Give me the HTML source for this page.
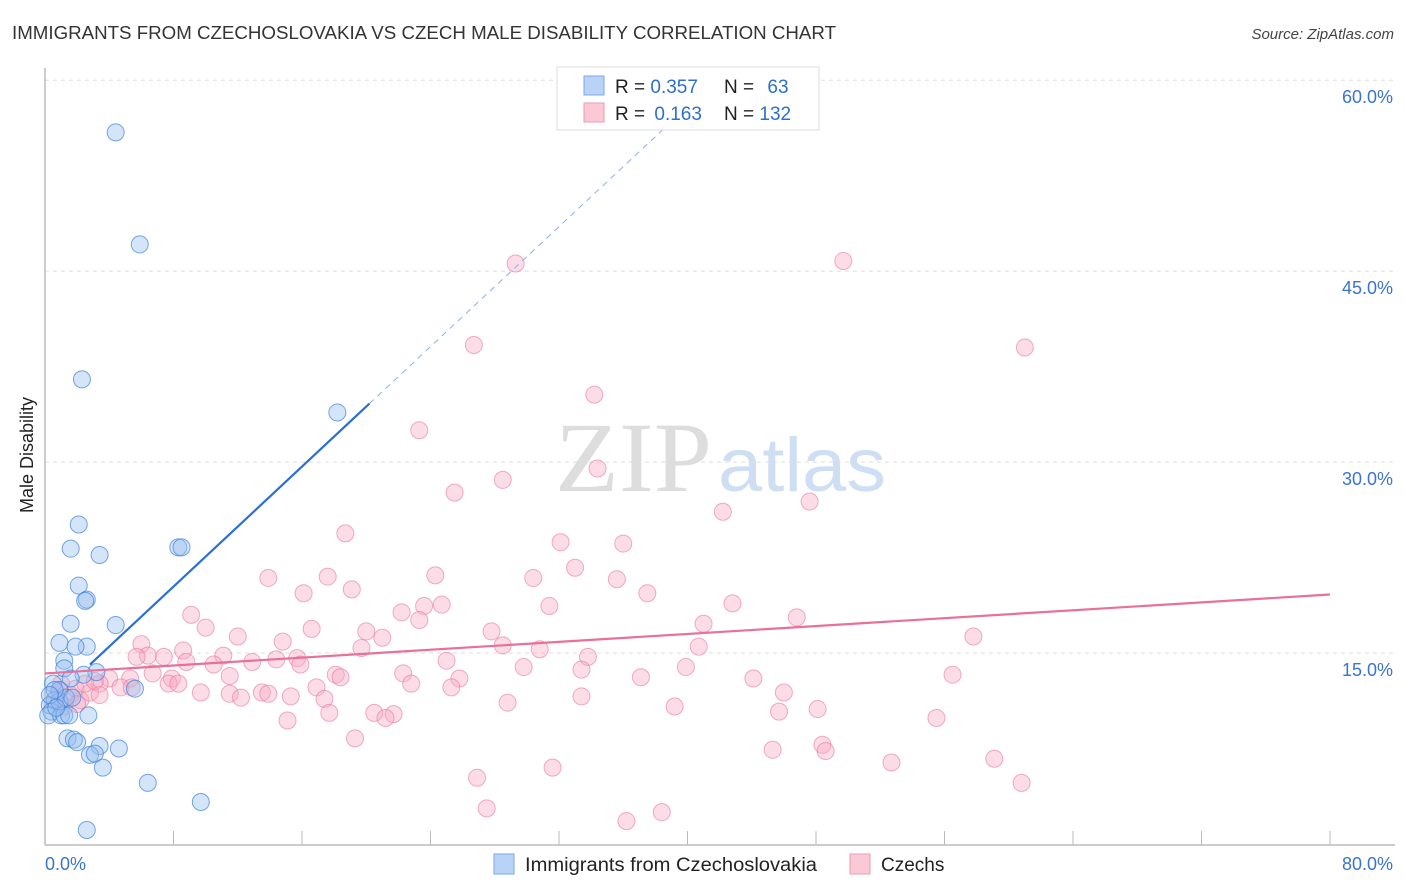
<!DOCTYPE html>
<html><head><meta charset="utf-8"><style>
body{margin:0;background:#fff;font-family:"Liberation Sans",sans-serif}
#wrap{position:relative;width:1406px;height:892px;overflow:hidden}
</style></head><body>
<div id="wrap">
<svg id="svg" width="1406" height="892" xmlns="http://www.w3.org/2000/svg">
<text x="12" y="39" font-size="18" fill="#333" textLength="824" lengthAdjust="spacingAndGlyphs">IMMIGRANTS FROM CZECHOSLOVAKIA VS CZECH MALE DISABILITY CORRELATION CHART</text>
<text x="1394" y="39" font-size="15" fill="#444" font-style="italic" text-anchor="end">Source: ZipAtlas.com</text>
<text x="33" y="455" font-size="18" fill="#222" transform="rotate(-90 33 455)" text-anchor="middle">Male Disability</text>
<text x="555" y="491" font-size="100" fill="#ddd" font-family="Liberation Serif,serif" textLength="157" lengthAdjust="spacingAndGlyphs">ZIP</text>
<text x="718" y="491" font-size="76" fill="#cfdff3" textLength="168" lengthAdjust="spacingAndGlyphs">atlas</text>
<g id="grid"></g><g id="axes"></g><g id="pts"></g><g id="lines"></g>
<g>
<rect x="557" y="67" width="262" height="63" fill="#fff" stroke="#ddd"/>
<rect x="584" y="76" width="20" height="19" fill="#b8d3f5" stroke="#7aaae8"/>
<rect x="584" y="103" width="20" height="19" fill="#fbc8d6" stroke="#ee9ab3"/>
<text x="615" y="93" font-size="19" fill="#222">R = <tspan fill="#2d6fd1">0.357</tspan></text>
<text x="724" y="93" font-size="19" fill="#222">N = <tspan fill="#2d6fd1" dx="8">63</tspan></text>
<text x="615" y="120" font-size="19" fill="#222">R = <tspan fill="#2d6fd1" dx="4">0.163</tspan></text>
<text x="724" y="120" font-size="19" fill="#222">N = <tspan fill="#2d6fd1">132</tspan></text>
</g>
<g>
<rect x="494" y="854" width="20" height="20" fill="#b8d3f5" stroke="#7aaae8"/>
<text x="525" y="871" font-size="19" fill="#222" textLength="292" lengthAdjust="spacingAndGlyphs">Immigrants from Czechoslovakia</text>
<rect x="850" y="854" width="20" height="20" fill="#fbc8d6" stroke="#ee9ab3"/>
<text x="881" y="871" font-size="19" fill="#222">Czechs</text>
</g>
</svg>
</div>
<script>
const xTickLabels=["0.0%","80.0%"];
const yTicks=[15,30,45,60];
const yTickLabels=["15.0%","30.0%","45.0%","60.0%"];
const blueX=[4.4,5.9,2.3,18.2,2.1,1.6,3.4,8.3,8.5,2.1,2.6,2.5,1.6,4.4,0.9,2.6,1.9,1.2,1.2,3.2,2.4,1.6,0.5,5.6,0.9,0.6,0.3,0.4,0.2,1.0,1.2,1.5,2.7,0.9,1.3,1.7,1.4,1.8,2.0,3.4,4.6,2.8,3.1,3.6,6.4,9.7,2.6,0.6,0.3,0.7];
const blueY=[55.9,47.1,36.5,33.9,25.1,23.2,22.7,23.3,23.3,20.3,19.2,19.1,17.3,17.2,15.8,15.5,15.5,14.4,13.8,13.5,13.3,13.0,12.6,12.2,12.1,11.3,10.9,10.4,10.1,10.1,10.1,10.1,10.1,11.2,11.5,11.5,8.3,8.2,8.0,7.7,7.5,7.0,7.1,6.0,4.8,3.3,1.1,12.1,11.7,10.7];
const pinkX=[29.3,49.7,26.7,61.0,34.2,23.3,34.4,28.5,25.5,47.6,42.2,18.7,32.1,36.0,33.0,13.9,17.6,24.3,30.4,35.6,19.1,37.5,16.1,31.4,42.8,24.7,23.6,22.2,23.3,9.1,10.0,46.8,41.0,16.6,27.8,20.0,12.0,57.8,6.0,14.8,21.0,28.5,19.7,30.8,40.7,8.6,7.4,6.4,5.7,11.1,15.7,8.8,10.5,12.9,25.0,33.8,29.8,14.4,15.9,39.9,33.4,6.7,7.9,11.5,18.1,18.4,22.3,25.8,37.1,44.1,56.5,4.0,5.3,3.4,4.7,7.7,8.3,16.9,22.8,25.3,5.4,9.7,11.5,12.2,13.5,15.3,13.9,17.4,46.0,33.4,28.8,39.2,45.7,48.1,17.7,20.5,21.7,21.2,15.1,55.5,19.3,45.3,48.4,48.6,31.6,52.7,59.1,26.9,60.8,27.5,38.4,36.2,0.9,1.6,2.2,2.8,1.2,1.9,2.5,0.6,3.1,3.4,1.0,2.0];
const pinkY=[45.6,45.8,39.2,39.0,35.3,32.5,29.5,28.6,27.6,26.9,26.1,24.4,23.7,23.6,21.7,20.9,21.0,21.1,20.9,20.8,20.0,19.7,19.7,18.7,18.9,18.8,18.7,18.2,17.6,18.0,17.0,17.8,17.3,16.9,16.7,16.7,16.3,16.3,15.7,15.9,16.2,15.6,15.4,15.3,15.5,15.2,14.7,14.8,14.7,14.8,14.6,14.3,14.1,14.3,14.4,14.7,13.9,14.5,14.1,13.9,13.7,13.4,13.0,13.2,13.3,13.1,13.4,13.0,13.1,13.0,13.3,13.0,13.0,12.6,12.3,12.6,12.6,12.3,12.6,12.3,12.3,11.9,11.8,11.5,11.9,11.6,11.8,11.4,11.9,11.6,11.1,10.8,10.4,10.6,10.3,10.3,10.2,9.9,9.7,9.9,8.3,7.4,7.8,7.3,6.0,6.4,6.7,5.2,4.8,2.8,2.5,1.8,12.1,11.7,11.3,11.9,10.8,12.2,12.6,11.3,12.8,11.7,12.6,11.0];
const blueFit=[10.8,1.178];
const pinkFit=[13.4,0.0775];
const NS="http://www.w3.org/2000/svg";
const X=v=>45+v*(1285/80);
const Y=v=>844-v*12.73;
function mk(tag,attrs,parent){const e=document.createElementNS(NS,tag);for(const k in attrs)e.setAttribute(k,attrs[k]);document.getElementById(parent).appendChild(e);return e;}
yTicks.forEach((t,i)=>{
 const g=mk('line',{x1:45,x2:1395,y1:Y(t),y2:Y(t),stroke:'#ddd','stroke-dasharray':'4,4'},'grid');
 
 
 const l=mk('text',{x:1393,y:Y(t)+23,'font-size':18,fill:'#3a74d0','text-anchor':'end'},'axes');l.textContent=yTickLabels[i];
 
 
});
const ax=mk('line',{x1:45,x2:1395,y1:845,y2:845,stroke:'#bbb','stroke-width':1.5},'axes');


const ay=mk('line',{x1:45,x2:45,y1:68,y2:845,stroke:'#bbb','stroke-width':1.5},'axes');


for(let v=8;v<=80;v+=8){const t=mk('line',{x1:X(v),x2:X(v),y1:831,y2:845,stroke:'#bbb'},'axes');
 
 }
const xl0=mk('text',{x:45,y:870,'font-size':18,fill:'#3a74d0'},'axes');xl0.textContent=xTickLabels[0];


const xl1=mk('text',{x:1393,y:870,'font-size':18,fill:'#3a74d0','text-anchor':'end'},'axes');xl1.textContent=xTickLabels[1];


pinkX.forEach((v,i)=>{const c=mk('circle',{cx:X(v),cy:Y(pinkY[i]),r:8.5,fill:'rgba(248,170,195,0.4)',stroke:'rgba(232,120,155,0.6)','stroke-width':1},'pts');
 
 });
blueX.forEach((v,i)=>{const c=mk('circle',{cx:X(v),cy:Y(blueY[i]),r:8.5,fill:'rgba(150,190,240,0.4)',stroke:'rgba(60,130,220,0.7)','stroke-width':1},'pts');
 
 });
const bx0=2.8,bx1=20.2,bx2=39.5;
const bl=mk('line',{x1:X(bx0),y1:Y(blueFit[0]+blueFit[1]*bx0),x2:X(bx1),y2:Y(blueFit[0]+blueFit[1]*bx1),stroke:'#2a6fd6','stroke-width':2.2},'lines');


const bd=mk('line',{x1:X(bx1),y1:Y(blueFit[0]+blueFit[1]*bx1),x2:X(bx2),y2:Y(blueFit[0]+blueFit[1]*bx2),stroke:'#8ab0e6','stroke-width':1,'stroke-dasharray':'6,5'},'lines');


const pl=mk('line',{x1:X(0),y1:Y(pinkFit[0]),x2:X(80),y2:Y(pinkFit[0]+pinkFit[1]*80),stroke:'#e8709a','stroke-width':2.2},'lines');


</script>
</body></html>
